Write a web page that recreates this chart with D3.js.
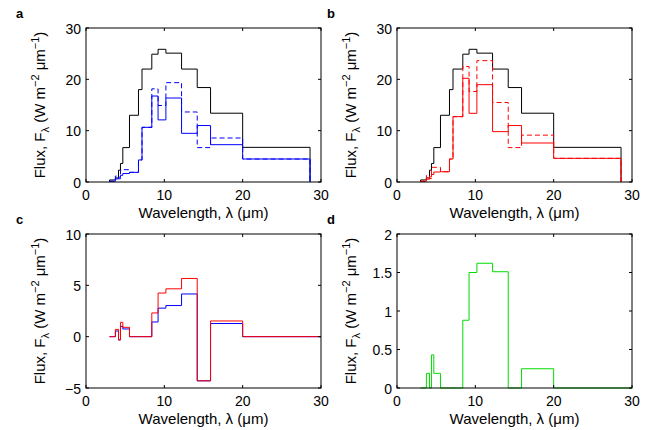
<!DOCTYPE html>
<html><head><meta charset="utf-8">
<script src="https://cdn.jsdelivr.net/npm/d3@7"></script>
<style>body{margin:0;background:#fff}</style>
</head><body><svg id="chart" width="651" height="430"></svg>
<script>
// ---- data ----
const binEdges   = [3.0, 3.75, 4.15, 4.4, 4.7, 5.55, 6.7, 7.15, 8.4, 9.2, 10.2, 12.2, 14.2, 15.9, 20.0, 28.6];
const totalFlux  = [0.4, 0.8, 2.3, 3.6, 6.7, 13.0, 18.0, 22.0, 24.9, 25.85, 25.1, 22.0, 18.4, 13.4, 6.75];
const blueSolid  = [0.15, 0.6, 0.95, 1.3, 1.65, 1.88, 4.3, 10.65, 16.75, 12.1, 16.36, 9.48, 11.0, 7.27, 4.48];
const blueDashed = [0.15, 1.15, 0.63, 2.3, 2.4, 1.88, 4.3, 10.65, 18.15, 14.9, 19.35, 13.64, 6.7, 8.57, 4.48];
const redSolid   = [0.15, 0.55, 1.0, 1.45, 1.95, 2.0, 4.48, 12.73, 20.2, 13.38, 18.96, 9.81, 11.0, 7.6, 4.61];
const redDashed  = [0.15, 1.26, 0.68, 2.85, 2.86, 2.0, 4.48, 12.73, 22.5, 17.63, 23.64, 15.49, 6.7, 9.13, 4.61];
const blueDiff   = [0, 0.55, -0.32, 1.0, 0.75, 0, 0, 0, 1.43, 2.78, 3.03, 4.16, -4.3, 1.28, 0];
const redDiff    = [0, 0.71, -0.32, 1.40, 0.91, 0, 0, 0, 2.31, 4.25, 4.66, 5.67, -4.3, 1.53, 0];
const greenDiff  = [0, 0.19, 0, 0.43, 0.19, 0, 0, 0, 0.88, 1.50, 1.62, 1.51, 0, 0.25, 0];
const xTicks   = [0, 10, 20, 30];
const yTicksAB = [0, 10, 20, 30];
const yTicksC  = [-5, 0, 5, 10];
const yTicksD  = [0, 0.5, 1, 1.5, 2];
const panelLetters = ['a', 'b', 'c', 'd'];
const xLabelText = 'Wavelength, λ (μm)';

const svg = d3.select('#chart');
svg.append('rect').attr('width', 651).attr('height', 430).attr('fill', '#fff');
const FONT = 'Liberation Sans, Arial, Helvetica, sans-serif';

const panels = [
  {letter: panelLetters[0], x0: 86,  x1: 321, y0: 28,  y1: 182, yDom: [0, 30], yTicks: yTicksAB,
   series: [{v: totalFlux, c: '#000'}, {v: blueDashed, c: '#0000ff', dash: true}, {v: blueSolid, c: '#0000ff'}]},
  {letter: panelLetters[1], x0: 397, x1: 632, y0: 28,  y1: 182, yDom: [0, 30], yTicks: yTicksAB,
   series: [{v: totalFlux, c: '#000'}, {v: redDashed, c: '#ff0000', dash: true}, {v: redSolid, c: '#ff0000'}]},
  {letter: panelLetters[2], x0: 86,  x1: 321, y0: 234, y1: 388, yDom: [-5, 10], yTicks: yTicksC, ext: 30,
   series: [{v: blueDiff, c: '#0000ff'}, {v: redDiff, c: '#ff0000'}]},
  {letter: panelLetters[3], x0: 397, x1: 632, y0: 234, y1: 388, yDom: [0, 2], yTicks: yTicksD, ext: 30,
   series: [{v: greenDiff, c: '#00dd00'}]}
];

function stepPoints(vals, ext) {
  const pts = [[binEdges[0], 0]];
  vals.forEach((v, i) => { pts.push([binEdges[i], v]); pts.push([binEdges[i + 1], v]); });
  pts.push([binEdges[binEdges.length - 1], 0]);
  if (ext != null) pts.push([ext, 0]);
  return pts;
}
const fmt = v => (v < 0 ? '\u2212' + Math.abs(v) : String(v));

panels.forEach(p => {
  const x = d3.scaleLinear().domain([0, 30]).range([p.x0, p.x1]);
  const y = d3.scaleLinear().domain(p.yDom).range([p.y1, p.y0]);
  const g = svg.append('g');
  const line = d3.line().x(d => x(d[0])).y(d => y(d[1]));
  p.series.forEach(s => {
    g.append('path').attr('d', line(stepPoints(s.v, p.ext)))
      .attr('fill', 'none').attr('stroke', s.c).attr('stroke-width', 1)
      .attr('stroke-dasharray', s.dash ? '5,3' : null);
  });
  // frame with inward ticks on all sides
  const ax = svg.append('g').attr('font-family', FONT).attr('font-size', 14).attr('fill', '#000');
  ax.append('rect').attr('x', p.x0).attr('y', p.y0).attr('width', p.x1 - p.x0).attr('height', p.y1 - p.y0)
    .attr('fill', 'none').attr('stroke', '#000').attr('stroke-width', 1);
  const TL = 3;
  xTicks.forEach(t => {
    ax.append('line').attr('x1', x(t)).attr('x2', x(t)).attr('y1', p.y1).attr('y2', p.y1 - TL).attr('stroke', '#000');
    ax.append('line').attr('x1', x(t)).attr('x2', x(t)).attr('y1', p.y0).attr('y2', p.y0 + TL).attr('stroke', '#000');
    ax.append('text').attr('x', x(t)).attr('y', p.y1 + 18).attr('text-anchor', 'middle').text(fmt(t));
  });
  p.yTicks.forEach(t => {
    ax.append('line').attr('x1', p.x0).attr('x2', p.x0 + TL).attr('y1', y(t)).attr('y2', y(t)).attr('stroke', '#000');
    ax.append('line').attr('x1', p.x1).attr('x2', p.x1 - TL).attr('y1', y(t)).attr('y2', y(t)).attr('stroke', '#000');
    ax.append('text').attr('x', p.x0 - 5).attr('y', y(t) + 5.5).attr('text-anchor', 'end').text(fmt(t));
  });
  // x label
  ax.append('text').attr('x', (p.x0 + p.x1) / 2).attr('y', p.y1 + 36).attr('text-anchor', 'middle')
    .attr('font-size', 15).text(xLabelText);
  // y label
  const yl = ax.append('text').attr('transform', `translate(${p.x0 - 41},${(p.y0 + p.y1) / 2}) rotate(-90)`)
    .attr('text-anchor', 'middle').attr('font-size', 15);
  yl.append('tspan').text('Flux, F');
  yl.append('tspan').attr('dy', 4).attr('font-size', 11).text('λ');
  yl.append('tspan').attr('dy', -4).text(' (W m');
  yl.append('tspan').attr('dy', -6).attr('font-size', 11).text('\u22122');
  yl.append('tspan').attr('dy', 6).text(' μm');
  yl.append('tspan').attr('dy', -6).attr('font-size', 11).text('\u22121');
  yl.append('tspan').attr('dy', 6).text(')');
  // panel letter
  ax.append('text').attr('x', p.x0 - 70).attr('y', p.y0 - 10).attr('font-weight', 'bold').attr('font-size', 13).text(p.letter);
});
</script></body></html>
